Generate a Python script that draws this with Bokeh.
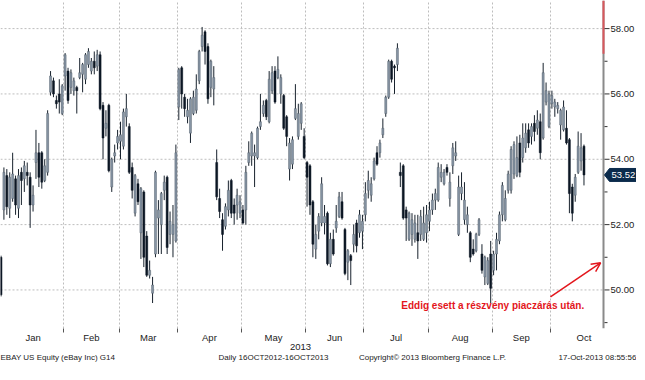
from bokeh.plotting import figure
from bokeh.models import (FixedTicker, Range1d, Label, Arrow, OpenHead,
                          ColumnDataSource, LinearAxis)
from bokeh.core.properties import value
from bokeh.embed import file_html
from bokeh.resources import INLINE

# ---------------- data (daily candles: open, high, low, close) ----------------
months = ["Jan", "Feb", "Mar", "Apr", "May", "Jun", "Jul", "Aug", "Sep", "Oct"]
year_label = "2013"

dec_2012 = [(51.0, 51.05, 49.8, 49.85)]

jan = [(52.45, 53.75, 52.15, 53.6), (53.5, 53.7, 52.3, 52.55), (52.5, 53.6, 52.2, 53.45),
       (52.8, 54.2, 52.7, 53.55), (53.4, 53.5, 52.3, 52.6), (52.5, 53.7, 52.2, 53.5),
       (53.6, 53.75, 52.6, 53.35), (53.4, 53.95, 53.0, 53.8), (53.6, 53.9, 53.2, 53.5),
       (53.45, 53.6, 51.9, 52.6), (52.6, 53.2, 52.4, 52.9), (53.9, 54.9, 53.4, 54.2),
       (54.2, 54.5, 53.15, 53.45), (54.2, 54.25, 53.1, 53.3), (53.35, 54.0, 53.3, 53.8),
       (53.6, 55.5, 53.5, 55.4), (56.05, 56.7, 55.95, 56.55), (56.4, 56.5, 55.9, 56.0),
       (55.8, 55.95, 55.55, 55.7), (56.0, 56.45, 55.4, 55.75), (55.4, 56.3, 55.35, 56.25)]

feb = [(56.55, 57.25, 56.1, 57.2), (56.7, 56.8, 55.7, 55.8), (56.2, 56.75, 56.0, 56.65),
       (56.1, 56.5, 55.95, 56.4), (56.2, 56.25, 55.4, 56.1), (56.5, 57.1, 56.45, 56.65),
       (56.6, 56.95, 56.05, 56.9), (56.45, 57.25, 56.3, 57.2), (56.9, 57.4, 56.8, 57.3),
       (56.7, 57.1, 56.6, 57.0), (57.0, 57.3, 56.6, 56.8), (56.85, 57.35, 56.7, 57.2),
       (57.2, 57.3, 55.5, 55.55), (55.65, 55.75, 54.0, 54.65), (54.95, 55.5, 54.7, 55.1),
       (55.65, 55.7, 53.6, 53.65), (53.15, 54.05, 53.0, 54.0), (54.1, 54.45, 53.9, 54.2),
       (54.5, 54.9, 54.3, 54.7)]

mar = [(54.55, 55.15, 54.0, 54.75), (54.4, 55.55, 54.3, 55.45), (55.3, 56.0, 55.0, 55.55),
       (55.0, 55.1, 53.55, 53.6), (53.75, 53.9, 52.8, 53.05), (52.35, 53.55, 52.25, 53.5),
       (53.25, 53.4, 52.6, 52.7), (51.75, 53.15, 50.95, 53.1), (53.0, 53.05, 50.7, 51.0),
       (51.65, 51.8, 50.4, 50.45), (50.45, 50.9, 50.35, 50.6), (49.9, 50.4, 49.6, 50.15),
       (51.1, 53.65, 51.0, 53.6), (52.2, 52.75, 51.1, 52.45), (52.0, 53.0, 51.1, 52.95),
       (53.05, 53.5, 52.75, 53.3), (53.45, 53.5, 51.1, 51.3), (51.7, 52.4, 51.4, 52.1),
       (51.7, 52.6, 51.0, 52.0), (51.5, 54.45, 51.45, 54.2)]

apr = [(55.6, 56.8, 55.2, 56.75), (56.8, 56.85, 55.55, 56.0), (55.9, 56.0, 55.3, 55.55),
       (55.3, 55.85, 55.1, 55.5), (54.8, 55.9, 54.5, 55.85), (55.4, 56.1, 55.35, 55.9),
       (55.5, 56.6, 55.4, 56.15), (56.4, 57.35, 56.3, 57.3), (57.45, 58.05, 57.3, 57.8),
       (57.9, 57.95, 56.9, 57.3), (57.45, 57.55, 55.7, 55.85), (56.2, 57.05, 55.9, 57.0),
       (56.15, 56.85, 55.65, 56.5), (53.9, 54.3, 52.75, 52.85), (52.8, 53.1, 52.2, 52.4),
       (52.15, 52.35, 51.2, 51.7), (51.95, 52.65, 51.85, 52.55), (52.45, 53.35, 52.25, 53.05),
       (53.35, 53.4, 52.2, 52.35), (52.6, 52.8, 52.0, 52.35), (52.6, 53.1, 52.15, 52.9),
       (52.35, 52.9, 52.2, 52.7)]

may = [(52.45, 52.6, 52.0, 52.05), (52.45, 53.8, 52.0, 53.6), (53.9, 54.55, 53.8, 54.2),
       (54.1, 54.85, 53.8, 54.8), (54.1, 54.45, 53.15, 54.2), (54.05, 55.0, 54.0, 54.95),
       (55.0, 56.0, 54.9, 55.15), (55.4, 55.8, 55.3, 55.65), (55.8, 55.85, 55.2, 55.3),
       (55.15, 56.7, 55.1, 56.45), (56.1, 56.85, 56.0, 56.65), (56.7, 56.85, 55.7, 55.75),
       (56.5, 57.15, 56.45, 56.75), (56.0, 56.6, 55.7, 56.5), (55.95, 56.0, 54.9, 54.95),
       (55.3, 55.35, 54.4, 54.7), (53.7, 54.65, 53.35, 54.5), (53.85, 54.7, 53.7, 54.6),
       (55.25, 56.3, 55.2, 55.55), (54.7, 55.7, 54.6, 55.4), (55.1, 55.75, 54.9, 55.7),
       (54.7, 54.95, 54.0, 54.05)]

jun = [(53.9, 53.95, 52.55, 53.45), (53.8, 53.85, 52.3, 52.6), (52.7, 52.75, 51.0, 51.4),
       (51.25, 52.0, 50.95, 51.7), (51.8, 52.35, 51.55, 52.25), (52.05, 53.45, 51.95, 53.25),
       (52.05, 52.6, 51.7, 52.25), (52.35, 52.4, 50.75, 50.8), (50.8, 51.75, 50.7, 51.55),
       (51.55, 51.85, 51.05, 51.1), (51.9, 52.6, 51.75, 52.1), (52.25, 53.0, 52.2, 52.85),
       (52.7, 53.0, 52.15, 52.2), (51.85, 51.9, 50.45, 50.5), (50.85, 51.25, 50.3, 51.2),
       (51.05, 51.1, 50.15, 50.9), (51.4, 52.0, 51.15, 51.7), (52.05, 52.15, 51.15, 51.35),
       (51.75, 52.45, 51.6, 52.3), (51.8, 52.3, 51.25, 52.1)]

jul = [(52.3, 53.3, 52.1, 52.95), (53.05, 53.65, 52.8, 53.35), (52.9, 53.45, 52.7, 53.25),
       (53.4, 54.05, 53.35, 53.95), (54.2, 54.4, 53.8, 53.85), (54.2, 54.6, 54.05, 54.5),
       (54.75, 55.25, 54.65, 54.95), (55.4, 55.95, 55.3, 55.9), (55.9, 57.05, 55.85, 57.0),
       (57.0, 57.05, 56.35, 56.45), (56.85, 56.9, 56.0, 56.8), (56.9, 57.55, 56.7, 57.4),
       (53.6, 53.9, 53.15, 53.5), (53.8, 53.85, 52.15, 52.2), (52.45, 52.55, 51.5, 52.2),
       (51.55, 52.4, 51.5, 52.35), (51.7, 52.35, 51.35, 52.15), (51.55, 52.3, 51.45, 52.05),
       (51.75, 52.3, 50.95, 51.5), (51.7, 52.45, 51.5, 52.25), (51.55, 52.55, 51.5, 52.05),
       (51.75, 52.6, 51.45, 52.3)]

aug = [(52.1, 52.7, 51.8, 52.45), (52.45, 52.95, 52.3, 52.75), (52.75, 53.1, 52.45, 52.95),
       (52.75, 53.9, 52.7, 53.75), (53.45, 53.85, 53.3, 53.6), (53.25, 53.7, 53.2, 53.6),
       (53.75, 53.85, 53.5, 53.6), (52.8, 53.6, 52.55, 53.3), (53.8, 54.5, 53.55, 54.35),
       (54.1, 54.55, 53.95, 54.2), (51.7, 53.5, 51.65, 53.15), (52.95, 53.6, 52.75, 53.15),
       (52.15, 53.3, 52.0, 52.75), (52.0, 52.55, 51.75, 52.3), (51.75, 51.8, 50.85, 51.0),
       (51.25, 51.55, 51.05, 51.1), (51.2, 51.75, 51.15, 51.7), (51.7, 52.2, 51.65, 52.15),
       (51.1, 51.4, 50.5, 50.6), (50.4, 51.05, 50.15, 51.0), (50.2, 51.0, 50.15, 50.9),
       (51.1, 51.5, 49.6, 50.05)]

sep = [(50.6, 51.2, 50.45, 51.1), (51.1, 51.75, 50.6, 51.55), (51.5, 52.4, 51.4, 52.3),
       (52.3, 53.3, 52.1, 53.2), (52.15, 53.05, 52.1, 52.8), (53.05, 53.65, 52.95, 53.55),
       (53.05, 54.4, 52.95, 54.3), (53.55, 54.55, 53.4, 54.45), (53.5, 54.7, 53.45, 54.05),
       (54.5, 54.75, 53.45, 53.6), (54.05, 55.1, 53.9, 54.65), (54.35, 55.1, 54.2, 54.8),
       (54.9, 55.1, 54.35, 54.5), (54.7, 55.1, 54.45, 55.0), (55.1, 55.35, 54.55, 54.85),
       (54.95, 55.5, 54.75, 55.2), (55.15, 55.4, 54.0, 54.2), (54.65, 56.95, 54.6, 56.65),
       (55.75, 56.35, 55.65, 56.1), (55.0, 56.1, 54.95, 56.0)]

oct_ = [(55.7, 56.1, 55.55, 55.95), (55.6, 55.85, 55.3, 55.75), (55.55, 55.75, 55.4, 55.65),
        (55.05, 55.55, 54.6, 55.5), (54.9, 55.8, 54.85, 55.6), (54.95, 55.5, 54.45, 54.5),
        (54.6, 54.65, 52.35, 52.95), (53.15, 53.25, 52.1, 52.35), (52.9, 53.55, 52.7, 53.45),
        (53.6, 54.85, 53.55, 54.4), (53.95, 54.8, 53.65, 54.35), (54.4, 54.45, 53.2, 53.52)]

month_bars = [jan, feb, mar, apr, may, jun, jul, aug, sep, oct_]
last_price = 53.52
price_ticks = [50, 52, 54, 56, 58]
minor_price_ticks = [49, 51, 53, 55, 57]
red_mark_bottom = 57.23

footer_texts = ["EBAY US Equity (eBay Inc) G14", "Daily 16OCT2012-16OCT2013",
                "Copyright\u00a9 2013 Bloomberg Finance L.P.", "17-Oct-2013 08:55:56"]
note_text = "Eddig esett a r\u00e9szv\u00e9ny piacz\u00e1r\u00e1s ut\u00e1n."

# ---------------- layout constants ----------------
FIG_W, FIG_H = 636, 364
AXIS_PX = 603                  # x pixel of the price axis line
X_START, X_AXIS = -0.17, 206.7
PX_PER_IDX = AXIS_PX / (X_AXIS - X_START)
X_RIGHT = X_START + FIG_W / PX_PER_IDX
Y_BOTTOM, Y_TOP = 48.82, 58.86
BOTTOM_BORDER = 35
FRAME_H = FIG_H - BOTTOM_BORDER
PX_PER_PRICE = FRAME_H / (Y_TOP - Y_BOTTOM)
OCT_FULL_TRADING_DAYS = 23
YEAR_PX = 300
FOOTER_CENTER_PX = [57, 273, 432, 597]
FONT = "Liberation Sans"
RED = "#e3161c"
UP_FILL, UP_EDGE = "#8795a5", "#56636f"
DN_FILL, DN_EDGE = "#0c1724", "#0c1724"
WICK = "#18222d"
GRID = "#bdbdbd"
TXT = "#222222"


def dx(px):
    return px / PX_PER_IDX


def dy(px):
    return px / PX_PER_PRICE


def px_to_x(px):
    return X_START + dx(px)


# ---------------- build table ----------------
bars = dec_2012 + [b for m in month_bars for b in m]
xs = list(range(len(bars)))
o = [b[0] for b in bars]
h = [b[1] for b in bars]
l = [b[2] for b in bars]
c = [b[3] for b in bars]
up = [cc >= oo for oo, cc in zip(o, c)]
src = ColumnDataSource(dict(
    x=xs, h=h, l=l,
    top=[max(a, b) for a, b in zip(o, c)],
    bottom=[min(a, b) for a, b in zip(o, c)],
    fill=[UP_FILL if u else DN_FILL for u in up],
    edge=[UP_EDGE if u else DN_EDGE for u in up],
))

starts = []
s = len(dec_2012)
for m in month_bars:
    starts.append(s)
    s += len(m)
bounds = [st - 0.5 for st in starts]
ends = bounds[1:] + [bounds[-1] + OCT_FULL_TRADING_DAYS]
mids = [(a + b) / 2 for a, b in zip(bounds, ends)]
grid_bounds = bounds[1:]

# ---------------- figure ----------------
p = figure(width=FIG_W, height=FIG_H, x_range=Range1d(X_START, X_RIGHT),
           y_range=Range1d(Y_BOTTOM, Y_TOP), y_axis_location=None,
           output_backend="svg", toolbar_location=None,
           min_border_left=0, min_border_right=0, min_border_top=0,
           min_border_bottom=BOTTOM_BORDER,
           background_fill_color="white", border_fill_color="white")
p.outline_line_color = None
p.ygrid.visible = False

# vertical month grid
p.xgrid.ticker = FixedTicker(ticks=grid_bounds)
p.xgrid.grid_line_color = GRID
p.xgrid.grid_line_dash = "2 2"

# horizontal price grid (stops at the price axis)
p.segment(x0=[X_START] * len(price_ticks), y0=price_ticks,
          x1=[X_AXIS] * len(price_ticks), y1=price_ticks,
          line_color=GRID, line_dash="2 2", line_width=1)

# candles
p.segment(x0="x", y0="h", x1="x", y1="l", source=src, line_color=WICK, line_width=1)
p.vbar(x="x", width=0.68, top="top", bottom="bottom", fill_color="fill",
       line_color="edge", line_width=0.5, source=src)

# price axis (right)
p.segment(x0=[X_AXIS], y0=[Y_BOTTOM], x1=[X_AXIS], y1=[Y_TOP],
          line_color="#8a8a8a", line_width=2)
p.segment(x0=[X_AXIS], y0=[Y_TOP], x1=[X_AXIS], y1=[red_mark_bottom],
          line_color="#d9575c", line_width=2)
p.segment(x0=[X_AXIS + dx(1)] * len(price_ticks), y0=price_ticks,
          x1=[X_AXIS + dx(6)] * len(price_ticks), y1=price_ticks,
          line_color="#333333", line_width=1)
p.segment(x0=[X_AXIS + dx(1)] * len(minor_price_ticks), y0=minor_price_ticks,
          x1=[X_AXIS + dx(4)] * len(minor_price_ticks), y1=minor_price_ticks,
          line_color="#333333", line_width=1)
p.text(x=[X_AXIS + dx(7)] * len(price_ticks), y=price_ticks,
       text=[f"{t:.2f}" for t in price_ticks], text_baseline="middle",
       text_align="left", text_font=value(FONT), text_font_size="9.5px",
       text_color=TXT)

# last price box
box_h = dy(6.5)
p.patch(x=[X_AXIS + dx(1), X_AXIS + dx(6), X_RIGHT, X_RIGHT, X_AXIS + dx(6)],
        y=[last_price, last_price + box_h, last_price + box_h,
           last_price - box_h, last_price - box_h],
        fill_color="#0b2b4c", line_color="#0b2b4c")
p.text(x=[X_AXIS + dx(8)], y=[last_price], text=[f"{last_price:.2f}"],
       text_baseline="middle", text_align="left", text_font=value(FONT),
       text_font_size="9.5px", text_color="white")

# month axis
xax = p.xaxis[0]
xax.ticker = FixedTicker(ticks=mids, minor_ticks=grid_bounds)
xax.major_label_overrides = {m: name for m, name in zip(mids, months)}
xax.axis_line_color = None
xax.major_tick_line_color = None
xax.major_tick_out = 0
xax.major_tick_in = 0
xax.minor_tick_line_color = "#555555"
xax.minor_tick_out = 4
xax.minor_tick_in = 0
xax.major_label_standoff = -1
xax.major_label_text_font = FONT
xax.major_label_text_font_size = "9.5px"
xax.major_label_text_color = TXT

# year axis
year_x = px_to_x(YEAR_PX)
yr = LinearAxis(ticker=FixedTicker(ticks=[year_x]),
                major_label_overrides={year_x: year_label})
# footer axis
foot_x = [px_to_x(v) for v in FOOTER_CENTER_PX]
ft = LinearAxis(ticker=FixedTicker(ticks=foot_x),
                major_label_overrides={v: t for v, t in zip(foot_x, footer_texts)})
for ax, size, standoff in [(yr, "9.5px", -2), (ft, "8px", 0)]:
    ax.axis_line_color = None
    ax.major_tick_line_color = None
    ax.minor_tick_line_color = None
    ax.major_tick_out = 0
    ax.major_tick_in = 0
    ax.major_label_standoff = standoff
    ax.major_label_text_font = FONT
    ax.major_label_text_font_size = size
    ax.major_label_text_color = TXT
    p.add_layout(ax, "below")

# annotation
p.add_layout(Label(x=168.7, y=49.53, text=note_text, text_align="center",
                   text_baseline="middle", text_font=FONT, text_font_style="bold",
                   text_font_size="10px", text_color=RED))
p.add_layout(Arrow(end=OpenHead(size=9, line_color=RED, line_width=1.5),
                   x_start=188.5, y_start=49.79, x_end=205.7, y_end=50.83,
                   line_color=RED, line_width=1.5))

open("out.html", "w").write(file_html(p, INLINE))
